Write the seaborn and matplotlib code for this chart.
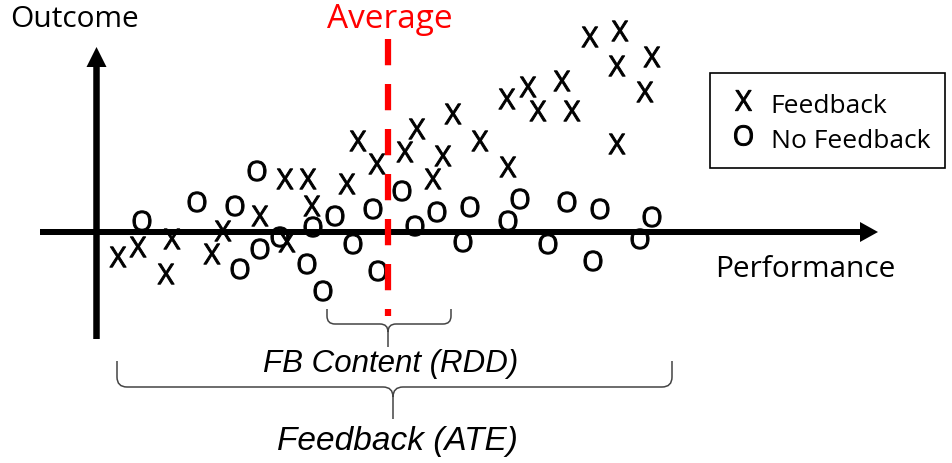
import matplotlib
matplotlib.use("Agg")
import matplotlib.pyplot as plt
import seaborn as sns
import pandas as pd
from matplotlib.path import Path
from matplotlib.patches import PathPatch

# ---- data (performance relative to average, outcome) ----
fb_perf = [-26.8, -24.8, -21.4, -22.0, -16.3, -17.4, -12.6, -9.9, -10.1, -7.8, -7.4,
           -2.8, -0.9, -3.9, 3.1, 1.9, 5.7, 4.7, 6.7, 9.4, 12.2,
           12.1, 14.2, 15.2, 17.6, 18.6, 20.4, 23.4, 23.1, 26.6, 25.9, 23.1]
fb_outcome = [-2.5, -1.5, -0.7, -4.2, 0.1, -2.2, 1.6, -1.0, 5.3, 5.3, 2.6,
              9.1, 6.8, 4.8, 10.3, 8.0, 7.6, 5.3, 11.8, 9.1, 6.5,
              13.3, 14.5, 12.1, 15.1, 12.1, 19.5, 20.1, 16.6, 17.5, 14.0, 8.8]
nofb_perf = [-24.4, -18.9, -15.1, -12.9, -12.6, -14.6, -10.6, -7.9, -7.3, -6.3, -5.1,
             -3.3, -1.3, 1.6, -0.8, 2.9, 5.1, 7.7, 8.4, 12.2, 13.4, 16.2, 18.1,
             21.4, 20.7, 25.4, 26.6]
nofb_outcome = [1.1, 3.0, 2.6, 6.1, -1.7, -3.7, -0.5, -3.2, 0.5, -5.9, 1.6,
                -1.2, 2.3, 4.1, -3.9, 0.6, 2.0, -1.0, 2.5, 1.1, 3.3, -1.2, 3.0,
                2.3, -2.9, -0.7, 1.5]
groups = ["Feedback", "No Feedback"]
axis_labels = ["Performance", "Outcome"]
average_label = "Average"
brace_labels = ["FB Content (RDD)", "Feedback (ATE)"]

sns.set_theme(style="white")
plt.rcParams["font.family"] = ["Open Sans", "DejaVu Sans"]
plt.rcParams["mathtext.fontset"] = "custom"
plt.rcParams["mathtext.rm"] = "Open Sans"
plt.rcParams["text.color"] = "black"
plt.rcParams["legend.labelcolor"] = "black"

df = pd.DataFrame({
    "Performance": fb_perf + nofb_perf,
    "Outcome": fb_outcome + nofb_outcome,
    "Group": [groups[0]] * len(fb_perf) + [groups[1]] * len(nofb_perf),
})

fig = plt.figure(figsize=(9.53, 4.64), dpi=100)
ax = fig.add_axes([0, 0, 1, 1])
ax.set_xlim(-38.6, 56.7)
ax.set_ylim(-23.1, 23.3)
ax.axis("off")

# axes arrows
ax.arrow(-34.6, 0, 49.2 + 34.6, 0, width=0.6, head_width=2.0, head_length=1.8,
         length_includes_head=True, fc="black", ec="none", zorder=2)
ax.arrow(-28.95, -10.7, 0, 18.5 + 10.7, width=0.65, head_width=2.0, head_length=2.0,
         length_includes_head=True, fc="black", ec="none", zorder=2)

sns.scatterplot(data=df, x="Performance", y="Outcome", style="Group",
                markers={groups[0]: r"$\mathrm{X}$", groups[1]: r"$\mathrm{O}$"},
                color="black", s=215, linewidth=0.7, edgecolor="black", ax=ax, zorder=3)

# average line
ax.plot([0.25, 0.25], [19.3, -8.4], color="#ff0000", lw=4.5, dashes=(4.2, 3.0),
        dash_capstyle="butt", zorder=4)

# labels
ax.text(-31.2, 20.6, axis_labels[1], fontsize=21.5, ha="center", va="baseline", color="black")
ax.text(0.4, 20.5, average_label, fontsize=24, ha="center", va="baseline", color="#ff0000")
ax.text(41.9, -4.4, axis_labels[0], fontsize=21.5, ha="center", va="baseline", color="black")


def brace(x0, x1, xm, ytop, yh, ytip, r):
    verts = [(x0, ytop), (x0, yh + r), (x0, yh), (x0 + r, yh), (xm - r, yh), (xm, yh), (xm, yh - r), (xm, ytip),
             (x1, ytop), (x1, yh + r), (x1, yh), (x1 - r, yh), (xm + r, yh), (xm, yh), (xm, yh - r)]
    codes = [Path.MOVETO, Path.LINETO, Path.CURVE3, Path.CURVE3, Path.LINETO, Path.CURVE3, Path.CURVE3, Path.LINETO,
             Path.MOVETO, Path.LINETO, Path.CURVE3, Path.CURVE3, Path.LINETO, Path.CURVE3, Path.CURVE3]
    ax.add_patch(PathPatch(Path(verts, codes), fill=False, ec="#444444", lw=1.1))


brace(-5.9, 6.5, 0.2, -7.7, -9.2, -11.5, 0.8)
brace(-26.9, 28.6, 0.7, -12.9, -15.5, -18.7, 1.0)
ax.text(0.5, -13.9, brace_labels[0], fontsize=22.5, style="italic", family="Liberation Sans",
        ha="center", va="baseline", color="black")
ax.text(1.1, -21.7, brace_labels[1], fontsize=24, style="italic", family="Liberation Sans",
        ha="center", va="baseline", color="black")

sns.move_legend(ax, "upper left", bbox_to_anchor=(0.745, 0.8405), title="", frameon=True,
                fontsize=19, borderpad=0.57, labelspacing=0.2, handlelength=1.35,
                handleheight=1.36, handletextpad=0.38, borderaxespad=0.0, fancybox=False,
                edgecolor="black", framealpha=1)
leg = ax.get_legend()
leg.get_frame().set_linewidth(1.2)
for t in leg.get_texts():
    t.set_color("black")

fig.savefig("out.png", dpi=100)
